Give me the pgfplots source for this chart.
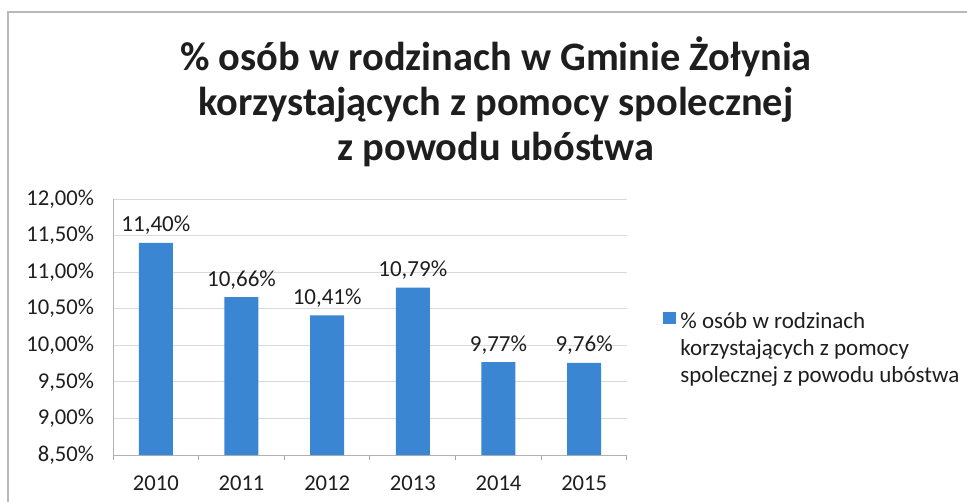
\documentclass[border=0pt]{standalone}
\usepackage{pgfplots}
\pgfplotsset{compat=1.18}
\usepackage{fontspec}
\setmainfont{Carlito}
\definecolor{barblue}{RGB}{58,134,210}
\definecolor{txt}{RGB}{30,30,30}
\begin{document}
\begin{tikzpicture}
\path[use as bounding box] (0,0) rectangle (483.5bp,251bp);
\draw[gray!55, line width=0.6bp] (4bp,0) -- (4bp,245bp) -- (483.5bp,245bp);
\node[font={\fontsize{20.2bp}{22.5bp}\selectfont\bfseries}, text=txt, align=center] at (248bp,200bp)
  {\% osób w rodzinach w Gminie Żołynia\\korzystających z pomocy spolecznej\\z powodu ubóstwa};
\begin{axis}[
  at={(56.5bp,23.5bp)}, anchor=south west,
  scale only axis, width=257bp, height=128bp,
  ybar, bar width=17bp,
  xmin=-0.5, xmax=5.5, ymin=8.5, ymax=12,
  xtick={0,...,5}, xticklabels={2010,2011,2012,2013,2014,2015},
  minor xtick={-0.5,0.5,...,5.5},
  major tick length=0pt, minor tick length=2.5bp,
  xtick align=outside, tick pos=lower,
  ytick={8.5,9,...,12},
  axis x line*=bottom, axis y line*=left,
  axis line style={gray!60, line width=0.5bp},
  every tick/.style={gray!70, line width=0.5bp},
  ymajorgrids, grid style={gray!30, line width=0.5bp},
  ticklabel style={font={\fontsize{11.3bp}{13bp}\selectfont}, text=txt},
  yticklabel style={xshift=-6bp},
  xticklabel style={yshift=-7bp},
  yticklabel={\pgfmathprintnumber[use comma,fixed,fixed zerofill,precision=2,assume math mode=true]{\tick}\%},
  nodes near coords={\pgfmathprintnumber[use comma,fixed,fixed zerofill,precision=2,assume math mode=true]{\pgfplotspointmeta}\%},
  every node near coord/.append style={font={\fontsize{11.5bp}{13bp}\selectfont}, text=txt, yshift=0.5bp},
  clip=false,
  legend style={at={(1.07,0.575)}, anchor=north west, draw=none, fill=none, inner sep=0pt,
    font={\fontsize{11.5bp}{13.5bp}\selectfont}, text=txt},
  legend image code/.code={\fill[barblue] (0bp,-1bp) rectangle (6.5bp,5bp);},
  legend cell align=left,
]
\addplot[fill=barblue, draw=none] coordinates {(0,11.40) (1,10.66) (2,10.41) (3,10.79) (4,9.77) (5,9.76)};
\addlegendentry{\parbox[t]{150bp}{\raggedright\% osób w rodzinach\\korzystających z pomocy\\spolecznej z powodu ubóstwa}}
\end{axis}
\end{tikzpicture}
\end{document}
